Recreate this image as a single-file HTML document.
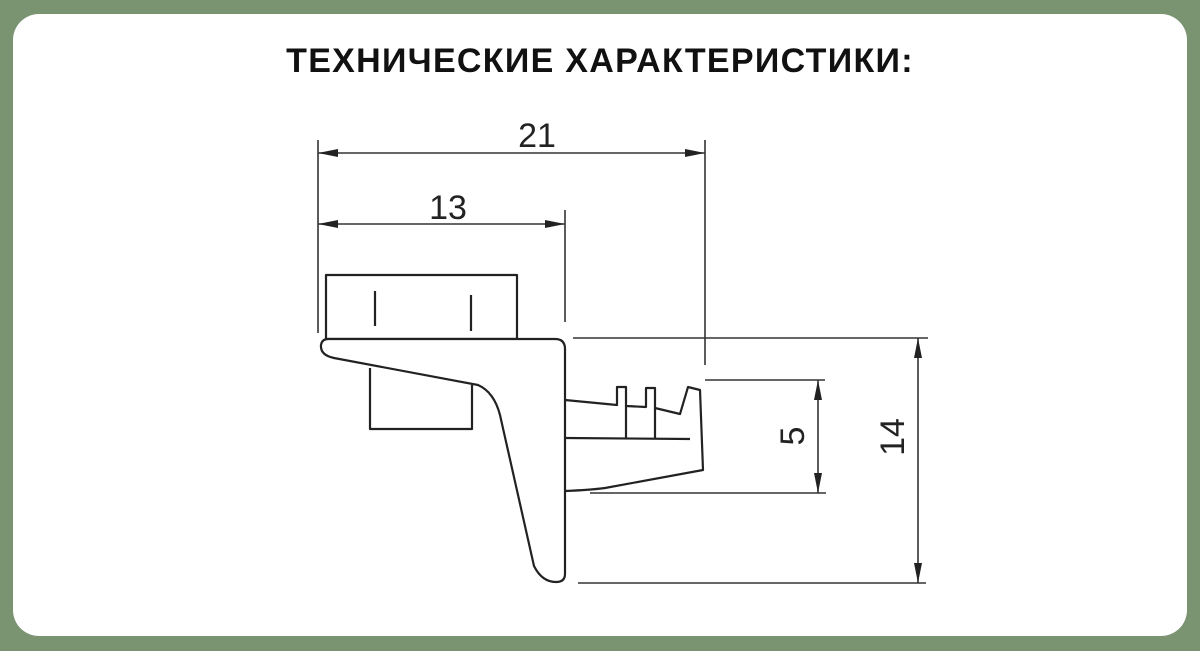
<!DOCTYPE html>
<html><head><meta charset="utf-8"><style>
html,body{margin:0;padding:0;}
body{width:1200px;height:651px;background:#7a9472;position:relative;overflow:hidden;}
.card{position:absolute;left:13px;top:14px;width:1174px;height:622px;background:#fff;border-radius:26px;}
.t{position:absolute;left:0;top:42px;width:1200px;text-align:center;font:bold 34px "Liberation Sans","DejaVu Sans",sans-serif;color:#111;letter-spacing:1.3px;}
svg{position:absolute;left:0;top:0;}
</style></head><body>
<div class="card"></div>
<div class="t">ТЕХНИЧЕСКИЕ ХАРАКТЕРИСТИКИ:</div>
<svg width="1200" height="651" viewBox="0 0 1200 651">
<defs>
<marker id="a" viewBox="0 0 20 8" refX="20" refY="4" markerWidth="20" markerHeight="8" markerUnits="userSpaceOnUse" orient="auto-start-reverse"><path d="M0,0 L20,4 L0,8 Z" fill="#222"/></marker>
</defs>
<g stroke="#333" stroke-width="1.6" fill="none">
<line x1="318" y1="140" x2="318" y2="333"/>
<line x1="565" y1="210" x2="565" y2="322"/>
<line x1="705" y1="140" x2="705" y2="365"/>
<line x1="573" y1="338" x2="928" y2="338"/>
<line x1="705" y1="380" x2="825" y2="380"/>
<line x1="590" y1="493" x2="826" y2="493"/>
<line x1="578" y1="583" x2="926" y2="583"/>
<line x1="318" y1="153" x2="705" y2="153" marker-start="url(#a)" marker-end="url(#a)"/>
<line x1="318" y1="224" x2="565" y2="224" marker-start="url(#a)" marker-end="url(#a)"/>
<line x1="818" y1="380" x2="818" y2="493" marker-start="url(#a)" marker-end="url(#a)"/>
<line x1="918" y1="338" x2="918" y2="583" marker-start="url(#a)" marker-end="url(#a)"/>
</g>
<g stroke="#222" stroke-width="2.2" fill="none" stroke-linejoin="round">
<rect x="326" y="275" width="191" height="64"/>
<line x1="375" y1="291" x2="375" y2="326"/>
<line x1="471" y1="295" x2="471" y2="331"/>
<polyline points="370,368 370,429 472,429 472,385"/>
<path d="M328,339 L555,339 Q565,339 565,349 L565,574 Q565,582 556,582 Q542,582 534,566 L500,415 Q494,392 478,385 L334,358 Q320,355 321,345 Q322,339 328,339 Z" fill="#fff"/>
<path d="M565,400 L617,405 L617,387 L626,387 L626,406 L646,407 L646,388 L655,388 L655,408 L680,414 L688,387 L700,390 L703,470 L605,488 Q590,490 565,491"/>
<line x1="565" y1="438" x2="690" y2="439"/>
<line x1="626" y1="406" x2="626" y2="438"/>
<line x1="655" y1="408" x2="655" y2="439"/>
</g>
<g font-family="Liberation Sans, DejaVu Sans, sans-serif" font-size="34" fill="#222" text-anchor="middle">
<text x="537" y="147">21</text>
<text x="448" y="219">13</text>
<text transform="translate(804,436) rotate(-90)">5</text>
<text transform="translate(904,437) rotate(-90)">14</text>
</g>
</svg>
</body></html>
